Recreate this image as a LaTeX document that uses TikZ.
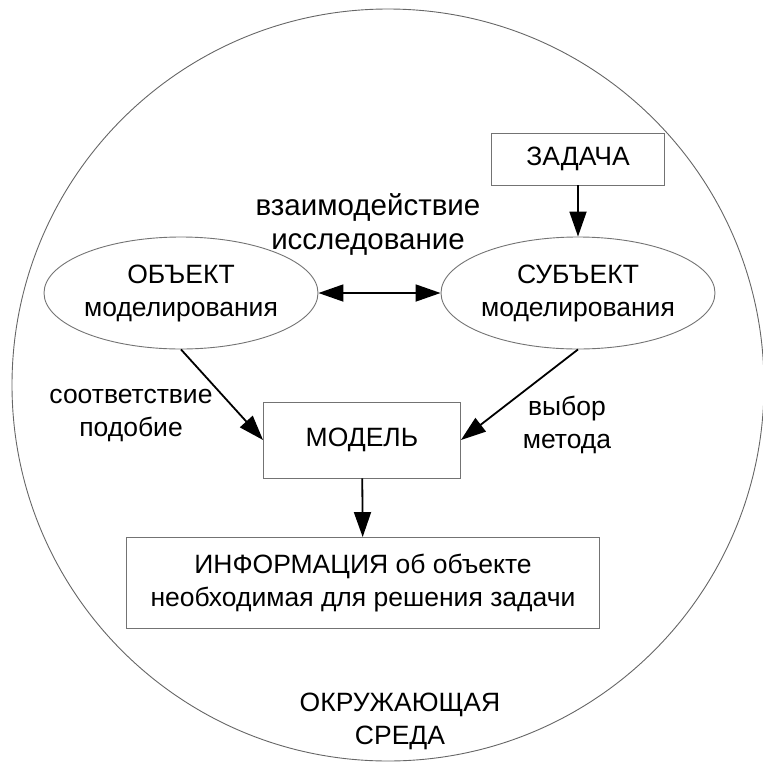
\documentclass[tikz,border=0pt]{standalone}
\usepackage{fontspec}
\setmainfont{Liberation Sans}
\usetikzlibrary{shapes.geometric,arrows.meta,positioning}

\begin{document}
\begin{tikzpicture}[x=1pt, y=-1pt,
    every node/.style={font=\fontsize{26.5}{33}\selectfont, align=center},
    box/.style={draw=black!55, line width=0.9pt, inner sep=0pt},
    oval/.style={ellipse, draw=black!55, line width=0.9pt, inner sep=0pt, minimum width=264, minimum height=112},
    link/.style={-{Triangle[length=25pt,width=17pt]}, line width=1.8pt},
    label/.style={inner sep=0pt}]
        \useasboundingbox (0,0) rectangle (763,764);
        % Environment
        \draw[black!60, line width=0.9pt] (388,385) circle (376);
        \node[label] (env) at (400,721) {ОКРУЖАЮЩАЯ\\СРЕДА};

        % Task
        \node[box, minimum width=173, minimum height=52] (task) at (578,159) {ЗАДАЧА};

        % Object and subject
        \node[oval] (obj) at (181,293) {ОБЪЕКТ\\моделирования};
        \node[oval] (subj) at (578,293) {СУБЪЕКТ\\моделирования};
        \node[label, font=\fontsize{29.5}{34}\selectfont] (inter) at (368,224) {взаимодействие\\исследование};
        \draw[link, {Triangle[length=25pt,width=17pt]}-{Triangle[length=25pt,width=17pt]}] (obj) -- (subj);
        \draw[link] (task) -- (subj);

        % Model
        \node[box, minimum width=197, minimum height=76] (model) at (362,440) {МОДЕЛЬ};
        \node[label] (simil) at (131,416) {соответствие\\подобие};
        \node[label] (method) at (567,425) {выбор\\метода};
        \draw[link] (obj.south) -- (model.west);
        \draw[link] (subj.south) -- (model.east);

        % Information
        \node[box, minimum width=473, minimum height=91] (info) at (363,583) {ИНФОРМАЦИЯ об объекте\\необходимая для решения задачи};
        \draw[link] (model) -- (info);
    \end{tikzpicture}
\end{document}
